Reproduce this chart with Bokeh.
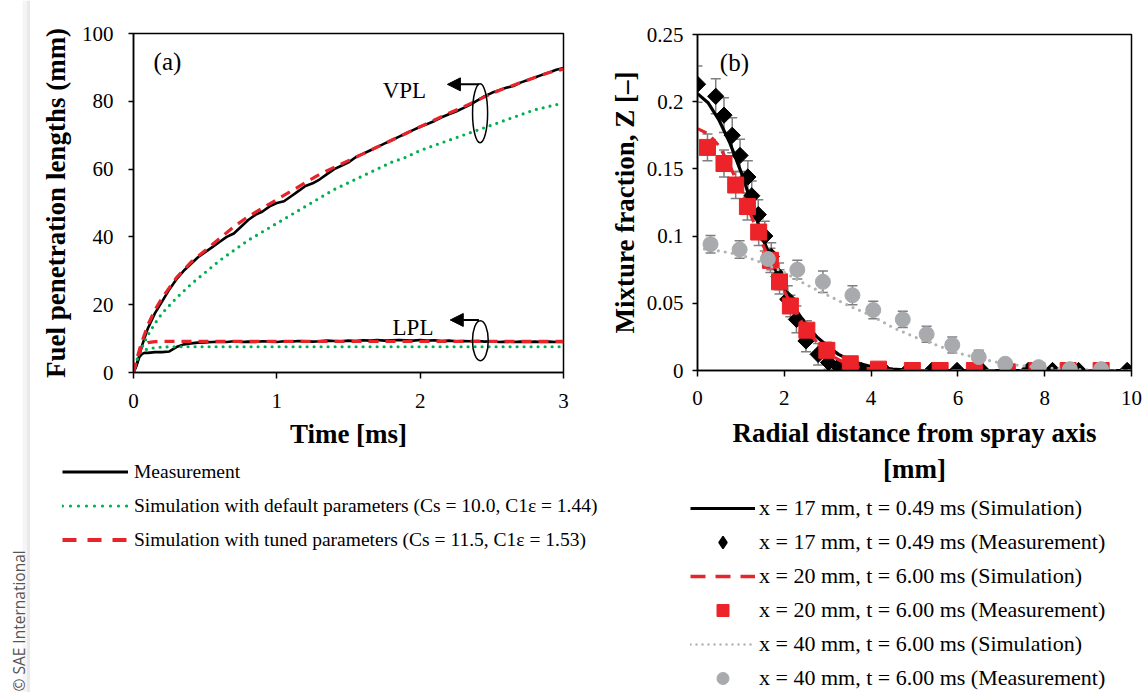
import math
from bokeh.plotting import figure
from bokeh.models import (Range1d, FixedTicker, Legend, LegendItem, Label, Arrow,
                          NormalHead, Whisker, TeeHead, ColumnDataSource, BoxAnnotation)
from bokeh.layouts import row, column
from bokeh.embed import file_html
from bokeh.resources import INLINE

SERIF = "Liberation Serif"

# ---------------- panel (a) data ----------------
t_meas = [0, 0.02, 0.04, 0.06, 0.08, 0.10, 0.15, 0.20, 0.25, 0.30, 0.35, 0.40, 0.45, 0.50,
          0.55, 0.60, 0.65, 0.70, 0.75, 0.80, 0.85, 0.90, 0.95, 1.00, 1.05, 1.10, 1.15, 1.20,
          1.25, 1.30, 1.35, 1.40, 1.45, 1.50, 1.55, 1.60, 1.65, 1.70, 1.75, 1.80, 1.85, 1.90,
          1.95, 2.00, 2.05, 2.10, 2.15, 2.20, 2.25, 2.30, 2.35, 2.40, 2.45, 2.50, 2.55, 2.60,
          2.65, 2.70, 2.75, 2.80, 2.85, 2.90, 2.95, 3.00]
vpl_meas = [0, 2, 5, 8, 10.5, 13, 17.5, 21, 24.5, 27.5, 30, 32, 34, 35.5, 37, 38.5, 40, 41,
            43, 45, 46.5, 47.5, 49, 50, 50.5, 52, 53.5, 55, 55.8, 57, 58.5, 60, 61, 62, 63.5,
            64.5, 65.5, 66.5, 67.5, 68.5, 69.5, 70.5, 71.5, 72.5, 73.3, 74.2, 75.3, 76.2, 77,
            78, 79, 80.3, 81.5, 82.5, 83.3, 84, 84.5, 85.5, 86.3, 87, 87.8, 88.5, 89.3, 89.8]
lpl_meas = [0, 2, 4.5, 5.5, 5.8, 5.8, 6.0, 6.0, 6.2, 7.5, 8.3, 8.6, 8.8, 8.9, 9.0, 9.1, 9.0,
            9.2, 9.0, 9.1, 9.0, 9.2, 9.1, 9.0, 9.2, 9.1, 9.3, 9.2, 9.1, 9.2, 9.4, 9.3, 9.2,
            9.4, 9.3, 9.5, 9.4, 9.6, 9.4, 9.5, 9.6, 9.5, 9.4, 9.6, 9.4, 9.5, 9.3, 9.4, 9.2,
            9.3, 9.2, 9.3, 9.1, 9.2, 9.0, 9.1, 9.0, 9.1, 9.0, 9.1, 9.0, 9.1, 9.0, 9.0]

t_sim = [0, 0.02, 0.05, 0.1, 0.15, 0.2, 0.3, 0.4, 0.5, 0.6, 0.7, 0.8, 0.9, 1.0, 1.1, 1.2,
         1.3, 1.4, 1.5, 1.6, 1.7, 1.8, 1.9, 2.0, 2.1, 2.2, 2.3, 2.4, 2.5, 2.6, 2.7, 2.8, 2.9, 3.0]
vpl_tuned = [0, 3.5, 8, 14, 18.5, 22, 28, 32.5, 36, 39.5, 43, 46, 48.5, 51, 53.5, 56, 58.5,
             60.5, 62.5, 64.5, 66.5, 68.5, 70.5, 72.5, 74.5, 76.5, 78.3, 80.3, 82.3, 84, 85.5,
             87, 88.5, 89.5]
vpl_default = [0, 3, 6.5, 11, 14.5, 17.5, 22, 26, 29.5, 33, 36, 39, 41.5, 44, 46.5, 49, 51.5,
               54, 56, 58, 60, 62, 63.5, 65.5, 67, 68.5, 70, 71.5, 73, 74.5, 76, 77.5, 78.5, 79.5]
lpl_tuned = [0, 3.5, 7.0, 8.8, 9.1, 9.2, 9.2, 9.2, 9.2, 9.2, 9.2, 9.2, 9.2, 9.2, 9.2, 9.2, 9.2,
             9.2, 9.2, 9.2, 9.2, 9.2, 9.2, 9.2, 9.2, 9.2, 9.2, 9.2, 9.2, 9.2, 9.2, 9.2, 9.2, 9.2]
lpl_default = [0, 3.5, 6.0, 7.0, 7.3, 7.5, 7.6, 7.6, 7.6, 7.6, 7.6, 7.6, 7.6, 7.6, 7.6, 7.6,
               7.6, 7.6, 7.6, 7.6, 7.6, 7.6, 7.6, 7.6, 7.6, 7.6, 7.6, 7.6, 7.6, 7.6, 7.6, 7.6,
               7.6, 7.6]

a_xticks = [0, 1, 2, 3]
a_yticks = [0, 20, 40, 60, 80, 100]
a_legend = ["Measurement",
            "Simulation with default parameters (Cs = 10.0, C1\u03b5 = 1.44)",
            "Simulation with tuned parameters (Cs = 11.5, C1\u03b5 = 1.53)"]

# annotation positions (data units)
ann_text = ["VPL", "LPL"]
ann_x = [1.89, 1.95]
ann_y = [83.2, 13.4]
ell_x = [2.418, 2.42]
ell_y = [76.5, 9.4]
ell_w = [0.105, 0.11]
ell_h = [17.4, 11.8]
arr_y = [85.0, 15.5]
arr_x0 = [2.41, 2.41]
arr_x1 = [2.19, 2.21]

# ---------------- panel (b) data ----------------
sim_r = [0, 0.25, 0.5, 0.75, 1.0, 1.25, 1.5, 1.75, 2.0, 2.25, 2.5, 2.75, 3.0, 3.25, 3.5,
         3.75, 4.0, 4.5, 5.0, 6.0, 7.0, 8.0, 9.0, 10.0]
sim17 = [0.206, 0.199, 0.186, 0.169, 0.148, 0.124, 0.099, 0.078, 0.061, 0.046, 0.034, 0.025,
         0.018, 0.012, 0.008, 0.005, 0.003, 0.001, 0.0, 0.0, 0.0, 0.0, 0.0, 0.0]
sim20 = [0.180, 0.176, 0.167, 0.152, 0.134, 0.114, 0.094, 0.076, 0.059, 0.044, 0.031, 0.021,
         0.013, 0.008, 0.004, 0.002, 0.001, 0.0, 0.0, 0.0, 0.0, 0.0, 0.0, 0.0]
sim40_r = [0, 0.5, 1.0, 1.5, 2.0, 2.5, 3.0, 3.5, 4.0, 4.5, 5.0, 5.5, 6.0, 6.5, 7.0, 7.5, 8.0,
           8.5, 9.0, 9.5, 10.0]
sim40 = [0.091, 0.089, 0.086, 0.080, 0.073, 0.064, 0.056, 0.048, 0.041, 0.032, 0.025, 0.019,
         0.013, 0.009, 0.0055, 0.0035, 0.002, 0.001, 0.0005, 0.0, 0.0]

m17_r = [0.0, 0.42, 0.61, 0.80, 0.98, 1.16, 1.25, 1.40, 1.55, 1.70, 1.88, 2.08, 2.28, 2.50,
         2.78, 3.02, 3.25, 3.50, 3.78, 4.30, 4.85, 5.40, 5.98, 6.55, 7.10, 7.62, 8.18, 8.78,
         9.30, 9.90]
m17_z = [0.213, 0.204, 0.190, 0.175, 0.160, 0.144, 0.130, 0.116, 0.100, 0.085, 0.070, 0.053,
         0.038, 0.022, 0.012, 0.006, 0.003, 0.001, 0.0, 0.0, 0.0, 0.0, 0.0, 0.0, 0.0, 0.0, 0.0,
         0.0, 0.0, 0.0]
m17_e = [0.0135, 0.013, 0.013, 0.013, 0.012, 0.012, 0.011, 0.011, 0.011, 0.010, 0.010, 0.010,
         0.010, 0.008, 0.008, 0.005, 0.003, 0.002, 0.001, 0.001, 0, 0, 0, 0, 0, 0, 0, 0, 0, 0]

m20_r = [0.23, 0.61, 0.88, 1.15, 1.41, 1.68, 1.89, 2.14, 2.52, 2.98, 3.52, 4.17, 4.95, 5.59,
         6.38, 7.14, 7.82, 8.54, 9.30]
m20_z = [0.166, 0.154, 0.138, 0.122, 0.103, 0.082, 0.066, 0.048, 0.030, 0.015, 0.005, 0.001,
         0.0, 0.0, 0.0, -0.001, 0.0, 0.0, 0.0]
m20_e = [0.010, 0.010, 0.010, 0.010, 0.010, 0.009, 0.009, 0.008, 0.007, 0.006, 0.004, 0.002,
         0, 0, 0, 0, 0, 0, 0]

m40_r = [0.30, 0.97, 1.62, 2.30, 2.89, 3.57, 4.05, 4.73, 5.28, 5.87, 6.48, 7.09, 7.86, 8.58, 9.30]
m40_z = [0.094, 0.090, 0.083, 0.075, 0.066, 0.056, 0.045, 0.038, 0.027, 0.019, 0.010, 0.005,
         0.0025, 0.001, 0.001]
m40_e = [0.0065, 0.0065, 0.0065, 0.007, 0.008, 0.007, 0.0065, 0.006, 0.006, 0.006, 0.005, 0.003,
         0.002, 0.001, 0.001]

b_xticks = [0, 2, 4, 6, 8, 10]
b_yticks = [0, 0.05, 0.1, 0.15, 0.2, 0.25]
b_ylabels = ["0", "0.05", "0.1", "0.15", "0.2", "0.25"]
b_legend = ["x = 17 mm, t = 0.49 ms (Simulation)",
            "x = 17 mm, t = 0.49 ms (Measurement)",
            "x = 20 mm, t = 6.00 ms (Simulation)",
            "x = 20 mm, t = 6.00 ms (Measurement)",
            "x = 40 mm, t = 6.00 ms (Simulation)",
            "x = 40 mm, t = 6.00 ms (Measurement)"]

GREEN = "#00b050"
RED = "#e8242b"
SQRED = "#ec2328"
GREY_DOT = "#b3b3b3"
GREY_PT = "#a8aaad"
ERR = "#7f7f7f"
H = 692


def style(p, xticks, yticks, xlabel, ylabel, xstand, ystand, xtitle_stand, ytitle_stand):
    p.xgrid.visible = False
    p.ygrid.visible = False
    p.outline_line_color = "black"
    p.outline_line_width = 1.5
    p.outline_line_alpha = 1.0
    p.xaxis.ticker = FixedTicker(ticks=xticks)
    p.yaxis.ticker = FixedTicker(ticks=yticks)
    p.xaxis.axis_label = xlabel
    p.yaxis.axis_label = ylabel
    for ax in (p.xaxis[0], p.yaxis[0]):
        ax.axis_line_width = 1.5
        ax.axis_line_color = "black"
        ax.major_tick_line_width = 1.5
        ax.major_tick_line_color = "black"
        ax.major_tick_in = 0
        ax.major_tick_out = 6
        ax.minor_tick_line_color = None
        ax.major_label_text_font = SERIF
        ax.major_label_text_font_size = "21px"
        ax.major_label_text_color = "black"
        ax.axis_label_text_font = SERIF
        ax.axis_label_text_font_size = "27px"
        ax.axis_label_text_font_style = "bold"
        ax.axis_label_text_color = "black"
    p.yaxis.major_tick_out = 5
    p.xaxis.major_label_standoff = xstand
    p.yaxis.major_label_standoff = ystand
    p.xaxis.axis_label_standoff = xtitle_stand
    p.yaxis.axis_label_standoff = ytitle_stand


def legend_fig(width, height, left, top):
    f = figure(width=width, height=height, x_range=Range1d(1000, 1001),
               y_range=Range1d(1000, 1001), output_backend="svg", toolbar_location=None,
               x_axis_location=None, y_axis_location=None, min_border_left=left,
               min_border_top=top, min_border_right=0, min_border_bottom=0)
    f.outline_line_color = None
    f.grid.visible = False
    return f


# ---------------- left strip with copyright ----------------
sae = figure(width=30, height=H, x_range=Range1d(0, 30), y_range=Range1d(0, H),
             output_backend="svg", toolbar_location=None, x_axis_location=None,
             y_axis_location=None, min_border=0)
sae.outline_line_color = None
sae.grid.visible = False
sae.add_layout(BoxAnnotation(left=26, right=30, fill_color="#e9e9e9", fill_alpha=1,
                             line_color=None))
sae.add_layout(BoxAnnotation(left=22, right=26, fill_color="#f5f5f5", fill_alpha=1,
                             line_color=None))
sae.add_layout(Label(x=18.5, y=1, x_units="screen", y_units="screen",
                     text="\u00a9 SAE International", angle=math.pi / 2,
                     text_font="Open Sans", text_font_size="15.5px", text_color="#555555",
                     text_align="left", text_baseline="middle"))

# ---------------- figure (a) ----------------
HA = 460
pa = figure(width=576, height=HA, x_range=Range1d(0, 3), y_range=Range1d(0, 100),
            output_backend="svg", toolbar_location=None,
            min_border_left=103, min_border_right=43, min_border_top=33,
            min_border_bottom=HA - 372)
style(pa, a_xticks, a_yticks, "Time [ms]", "Fuel penetration lengths (mm)", 15, 15, 8, 8)

pa.line(t_meas, vpl_meas, line_color="black", line_width=2.6)
pa.line(t_meas, lpl_meas, line_color="black", line_width=2.6)
pa.line(t_sim, vpl_default, line_color=GREEN, line_width=3.2, line_dash="0 7", line_cap="round")
pa.line(t_sim, lpl_default, line_color=GREEN, line_width=3.2, line_dash="0 7", line_cap="round")
pa.line(t_sim, vpl_tuned, line_color=RED, line_width=3.2, line_dash="10 7")
pa.line(t_sim, lpl_tuned, line_color=RED, line_width=3.2, line_dash="10 7")

pa.ellipse(x=ell_x, y=ell_y, width=ell_w, height=ell_h, fill_color=None,
           line_color="black", line_width=1.5)
for i in range(2):
    pa.add_layout(Arrow(end=NormalHead(size=13, fill_color="black", line_color="black"),
                        x_start=arr_x0[i], y_start=arr_y[i], x_end=arr_x1[i], y_end=arr_y[i],
                        line_color="black", line_width=2))
    pa.add_layout(Label(x=ann_x[i], y=ann_y[i], text=ann_text[i], text_font=SERIF,
                        text_font_size="23px", text_align="center", text_baseline="middle",
                        text_color="black"))
pa.add_layout(Label(x=0.237, y=91.7, text="(a)", text_font=SERIF, text_font_size="25px",
                    text_align="center", text_baseline="middle", text_color="black"))

# legend (a) in its own strip below panel (a)
la = legend_fig(576, H - HA, 32, 0)
ra1 = la.line(t_meas, vpl_meas, line_color="black", line_width=3)
ra2 = la.line(t_sim, vpl_default, line_color=GREEN, line_width=3.2, line_dash="0 8",
              line_cap="round")
ra3 = la.line(t_sim, vpl_tuned, line_color=RED, line_width=4, line_dash="14 11")
la.add_layout(Legend(items=[LegendItem(label=a_legend[0], renderers=[ra1]),
                            LegendItem(label=a_legend[1], renderers=[ra2]),
                            LegendItem(label=a_legend[2], renderers=[ra3])],
                     location="top_left", margin=0, padding=0, spacing=11,
                     glyph_width=66, glyph_height=23, label_height=23, label_standoff=6,
                     label_text_font=SERIF, label_text_font_size="19.5px",
                     label_text_color="black", border_line_color=None,
                     background_fill_alpha=0))

# ---------------- figure (b) ----------------
HB = 490
pb = figure(width=537, height=HB, x_range=Range1d(0, 10), y_range=Range1d(0, 0.25),
            output_backend="svg", toolbar_location=None,
            min_border_left=89, min_border_right=12, min_border_top=34,
            min_border_bottom=HB - 370)
style(pb, b_xticks, b_yticks, "Radial distance from spray axis\n[mm]",
      "Mixture fraction, Z [\u2013]", 14, 9, 10, 4)
pb.yaxis.major_label_overrides = {t: l for t, l in zip(b_yticks, b_ylabels)}


def whisk(p, xs, zs, es):
    keep = [i for i in range(len(xs)) if es[i] > 0]
    src = ColumnDataSource(dict(x=[xs[i] for i in keep],
                                lo=[zs[i] - es[i] for i in keep],
                                hi=[zs[i] + es[i] for i in keep]))
    p.add_layout(Whisker(source=src, base="x", upper="hi", lower="lo",
                         line_color=ERR, line_width=1.5,
                         upper_head=TeeHead(size=10, line_color=ERR, line_width=1.5),
                         lower_head=TeeHead(size=10, line_color=ERR, line_width=1.5)))


whisk(pb, m17_r, m17_z, m17_e)
whisk(pb, m20_r, m20_z, m20_e)
whisk(pb, m40_r, m40_z, m40_e)

pb.line(sim_r, sim17, line_color="black", line_width=3.2)
pb.scatter(m17_r, m17_z, marker="square", size=11.5, angle=math.pi / 4,
           fill_color="black", line_color="black")
pb.line(sim_r, sim20, line_color=RED, line_width=3.2, line_dash="10 7")
pb.scatter(m20_r, m20_z, marker="square", size=16, fill_color=SQRED, line_color=SQRED)
pb.line(sim40_r, sim40, line_color=GREY_DOT, line_width=3.2, line_dash="0 7", line_cap="round")
pb.scatter(m40_r, m40_z, marker="circle", size=15, fill_color=GREY_PT, line_color=GREY_PT)

pb.add_layout(Label(x=0.85, y=0.229, text="(b)", text_font=SERIF, text_font_size="25px",
                    text_align="center", text_baseline="middle", text_color="black"))

# legend (b) in its own strip below panel (b)
lb = legend_fig(537, H - HB, 84, 3)
rb1 = lb.line(sim_r, sim17, line_color="black", line_width=3.2)
rb2 = lb.scatter(m17_r, m17_z, marker="diamond", size=12,
                 fill_color="black", line_color="black", line_width=1.5)
rb3 = lb.line(sim_r, sim20, line_color=RED, line_width=3.5, line_dash="15 10")
rb4 = lb.scatter(m20_r, m20_z, marker="square", size=12, fill_color=SQRED, line_color=SQRED)
rb5 = lb.line(sim40_r, sim40, line_color=GREY_DOT, line_width=2.5, line_dash="0 6",
              line_cap="round")
rb6 = lb.scatter(m40_r, m40_z, marker="circle", size=12, fill_color=GREY_PT, line_color=GREY_PT)
lb.add_layout(Legend(items=[LegendItem(label=b_legend[i], renderers=[r])
                            for i, r in enumerate([rb1, rb2, rb3, rb4, rb5, rb6])],
                     location="top_left", margin=0, padding=0, spacing=4,
                     glyph_width=65, glyph_height=30, label_height=30, label_standoff=4,
                     label_text_font=SERIF, label_text_font_size="22px",
                     label_text_color="black", border_line_color=None,
                     background_fill_alpha=0))

layout = row(column(sae), column(pa, row(la)), column(pb, row(lb)))

open("out.html", "w").write(file_html(layout, INLINE))
